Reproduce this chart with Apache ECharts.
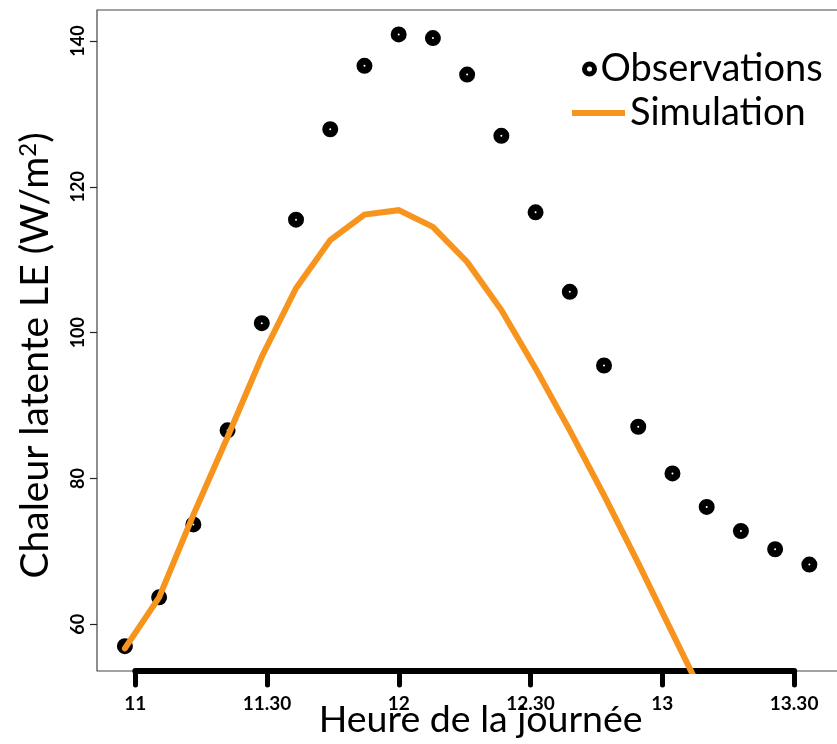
<!DOCTYPE html>
<html>
<head>
<meta charset="utf-8">
<script src="https://cdn.jsdelivr.net/npm/echarts@6/dist/echarts.min.js"></script>
<style>html,body{margin:0;padding:0;background:#fff}#c{width:837px;height:744px}</style>
</head>
<body>
<div id="c"></div>
<script>
// Time of day in decimal hours
const times = [10.96, 11.09, 11.22, 11.35, 11.48, 11.61, 11.74, 11.87, 12.00, 12.13, 12.26,
               12.39, 12.52, 12.65, 12.78, 12.91, 13.04, 13.17, 13.30, 13.43, 13.56];
// Observed latent heat LE (W/m2)
const observations = [57.0, 63.7, 73.7, 86.6, 101.3, 115.5, 127.9, 136.6, 140.9, 140.4, 135.4,
                      127.0, 116.5, 105.6, 95.5, 87.1, 80.7, 76.1, 72.8, 70.3, 68.2];
// Simulated latent heat LE (W/m2)
const simulation = [56.7, 63.7, 75.0, 85.7, 96.7, 106.1, 112.7, 116.2, 116.8, 114.5, 109.7,
                    103.1, 95.1, 86.6, 77.7, 68.4, 58.8, 49.2];
const xTickValues = [11, 11.5, 12, 12.5, 13, 13.5];
const xTickLabels = ['11', '11.30', '12', '12.30', '13', '13.30'];
const yTickValues = [60, 80, 100, 120, 140];

const FONT = 'Lato, "Open Sans", sans-serif';
const ORANGE = '#F7941D';
const obsData = times.map((t, i) => [t, observations[i]]);
const simData = simulation.map((v, i) => [times[i], v]);

const chart = echarts.init(document.getElementById('c'), null, {renderer: 'canvas'});
chart.setOption({
  animation: false,
  backgroundColor: '#fff',
  grid: [
    {left: 97, top: 10, width: 745, bottom: 73, show: true, borderColor: '#444', borderWidth: 1.2,
     backgroundColor: 'transparent', outerBoundsMode: 'none', containLabel: false},
    {left: 135.3, top: 10, width: 658.8, bottom: 73, show: false, outerBoundsMode: 'none', containLabel: false}
  ],
  xAxis: [
    {type: 'value', gridIndex: 0, min: 10.854, max: 13.684, show: false, splitLine: {show: false}},
    {type: 'value', gridIndex: 1, min: 11, max: 13.5, interval: 0.5, position: 'bottom',
     axisLine: {show: true, onZero: false, lineStyle: {color: '#000', width: 6, cap: 'round'}},
     axisTick: {show: true, length: 14, lineStyle: {color: '#000', width: 5, cap: 'round'}},
     axisLabel: {margin: 23, color: '#000', fontFamily: FONT, fontWeight: 'bold', fontSize: 19,
                 formatter: v => { const k = xTickValues.indexOf(v); return k >= 0 ? xTickLabels[k] : ''; }},
     splitLine: {show: false},
     name: 'Heure de la journée', nameLocation: 'middle', nameGap: 30, nameMoveOverlap: false,
     nameTextStyle: {fontFamily: FONT, fontSize: 37.5, color: '#000', padding: [0, 0, 0, 32]}}
  ],
  yAxis: [
    {type: 'value', gridIndex: 0, min: 53.6, max: 144.25,
     axisLine: {show: false},
     axisTick: {show: true, length: 7, customValues: yTickValues, lineStyle: {color: '#222', width: 1.2}},
     axisLabel: {show: true, customValues: yTickValues, rotate: 90, margin: 10, color: '#000',
                 fontFamily: FONT, fontWeight: 'bold', fontSize: 18},
     splitLine: {show: false},
     name: '{a|Chaleur latente LE (W/m}{s|2}{a|)}', nameLocation: 'middle', nameRotate: 90, nameGap: 42,
     nameMoveOverlap: false,
     nameTextStyle: {padding: [0, 30, 0, 0],
       rich: {a: {fontFamily: FONT, fontSize: 39, color: '#000'},
              s: {fontFamily: FONT, fontSize: 24, color: '#000', verticalAlign: 'top'}}}},
    {type: 'value', gridIndex: 1, show: false, min: 0, max: 1}
  ],
  legend: [
    {left: 582, top: 50, padding: 0, itemWidth: 12, itemHeight: 10, orient: 'vertical',
     data: [{name: 'Observations', icon: 'circle', itemStyle: {color: '#fff', borderColor: '#000', borderWidth: 5}}],
     textStyle: {fontFamily: FONT, fontSize: 38, color: '#000'}},
    {left: 572, top: 94, padding: 0, itemWidth: 53, itemHeight: 6,
     data: [{name: 'Simulation', icon: 'rect', itemStyle: {color: ORANGE, borderWidth: 0}}],
     textStyle: {fontFamily: FONT, fontSize: 38, color: '#000'}}
  ],
  series: [
    {name: 'Observations', type: 'scatter', xAxisIndex: 0, yAxisIndex: 0, data: obsData,
     symbol: 'circle', symbolSize: 9,
     itemStyle: {color: '#fff', borderColor: '#000', borderWidth: 7, opacity: 1}, z: 2},
    {name: 'Simulation', type: 'line', xAxisIndex: 0, yAxisIndex: 0, data: simData,
     symbol: 'none', showSymbol: false, clip: true,
     lineStyle: {color: ORANGE, width: 6, cap: 'round', join: 'miter'}, itemStyle: {color: ORANGE}, z: 3}
  ]
});
</script>
</body>
</html>
